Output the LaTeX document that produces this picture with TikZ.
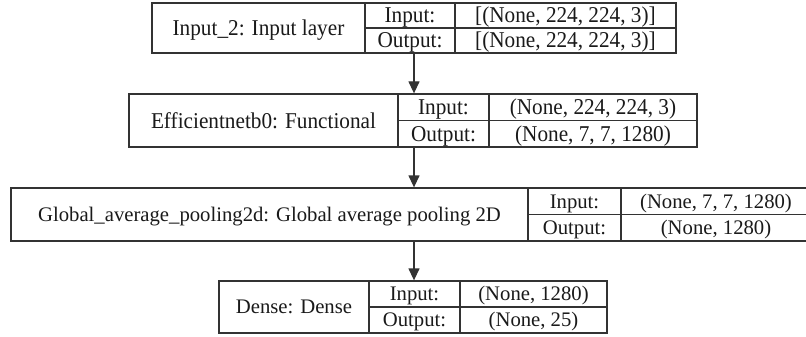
\documentclass[tikz,border=0pt]{standalone}
\usepackage{fontspec}
\setmainfont{Liberation Serif}
\newfontfamily\cfont[FakeStretch=0.94]{Liberation Serif}
\usetikzlibrary{arrows.meta}
\definecolor{linec}{HTML}{333333}
\definecolor{textc}{HTML}{1A1A1A}
\tikzset{
  frame/.style={draw=linec, line width=1.3pt, inner sep=0pt},
  cellbox/.style={draw=linec, line width=1.1pt, inner sep=0pt, text=textc,
    text depth=0pt, anchor=center},
  big/.style={font=\cfont\fontsize{22.6}{26}\selectfont, text height=15pt},
  small/.style={font=\fontsize{20.7}{24}\selectfont, text height=13.7pt},
  arr/.style={draw=linec, line width=1.3pt, -{Triangle[width=11pt,length=12pt]}}
}
\begin{document}
\begin{tikzpicture}[x=1pt,y=-1pt]
\useasboundingbox (0,0) rectangle (806,337);
\fill[white] (0,0) rectangle (806,337);

% Box 1
\node[frame, minimum width=524pt, minimum height=50pt] (b1) at (414,28) {};
\node[cellbox, big, minimum width=213pt, minimum height=50pt] (b1m) at (258.5,28) {Input\_2: Input layer};
\node[cellbox, big, minimum width=90pt, minimum height=25pt] (b1il) at (410,15.5) {Input:};
\node[cellbox, big, minimum width=221pt, minimum height=25pt] (b1iv) at (565.5,15.5) {[(None, 224, 224, 3)]};
\node[cellbox, big, minimum width=90pt, minimum height=25pt] (b1ol) at (410,40.5) {Output:};
\node[cellbox, big, minimum width=221pt, minimum height=25pt] (b1ov) at (565.5,40.5) {[(None, 224, 224, 3)]};

% Box 2
\node[frame, minimum width=568pt, minimum height=53pt] (b2) at (413,120.5) {};
\node[cellbox, big, minimum width=269pt, minimum height=53pt] (b2m) at (263.5,120.5) {Efficientnetb0: Functional};
\node[cellbox, big, minimum width=91pt, minimum height=26.5pt] (b2il) at (443.5,107.25) {Input:};
\node[cellbox, big, minimum width=208pt, minimum height=26.5pt] (b2iv) at (593,107.25) {(None, 224, 224, 3)};
\node[cellbox, big, minimum width=91pt, minimum height=26.5pt] (b2ol) at (443.5,133.75) {Output:};
\node[cellbox, big, minimum width=208pt, minimum height=26.5pt] (b2ov) at (593,133.75) {(None, 7, 7, 1280)};

% Box 3
\node[frame, minimum width=800pt, minimum height=53pt] (b3) at (411,214.5) {};
\node[cellbox, small, minimum width=517pt, minimum height=53pt] (b3m) at (269.5,214.5) {Global\_average\_pooling2d: Global average pooling 2D};
\node[cellbox, small, minimum width=93pt, minimum height=26.5pt] (b3il) at (574.5,201.25) {Input:};
\node[cellbox, small, minimum width=190pt, minimum height=26.5pt] (b3iv) at (716,201.25) {(None, 7, 7, 1280)};
\node[cellbox, small, minimum width=93pt, minimum height=26.5pt] (b3ol) at (574.5,227.75) {Output:};
\node[cellbox, small, minimum width=190pt, minimum height=26.5pt] (b3ov) at (716,227.75) {(None, 1280)};

% Box 4
\node[frame, minimum width=388pt, minimum height=52pt] (b4) at (413,307) {};
\node[cellbox, small, minimum width=150pt, minimum height=52pt] (b4m) at (294,307) {Dense: Dense};
\node[cellbox, small, minimum width=91pt, minimum height=26pt] (b4il) at (414.5,294) {Input:};
\node[cellbox, small, minimum width=147pt, minimum height=26pt] (b4iv) at (533.5,294) {(None, 1280)};
\node[cellbox, small, minimum width=91pt, minimum height=26pt] (b4ol) at (414.5,320) {Output:};
\node[cellbox, small, minimum width=147pt, minimum height=26pt] (b4ov) at (533.5,320) {(None, 25)};

% Arrows
\draw[arr] (b1.south) -- (b1.south |- b2.north);
\draw[arr] (b1.south |- b2.south) -- (b1.south |- b3.north);
\draw[arr] (b1.south |- b3.south) -- (b1.south |- b4.north);
\end{tikzpicture}
\end{document}
